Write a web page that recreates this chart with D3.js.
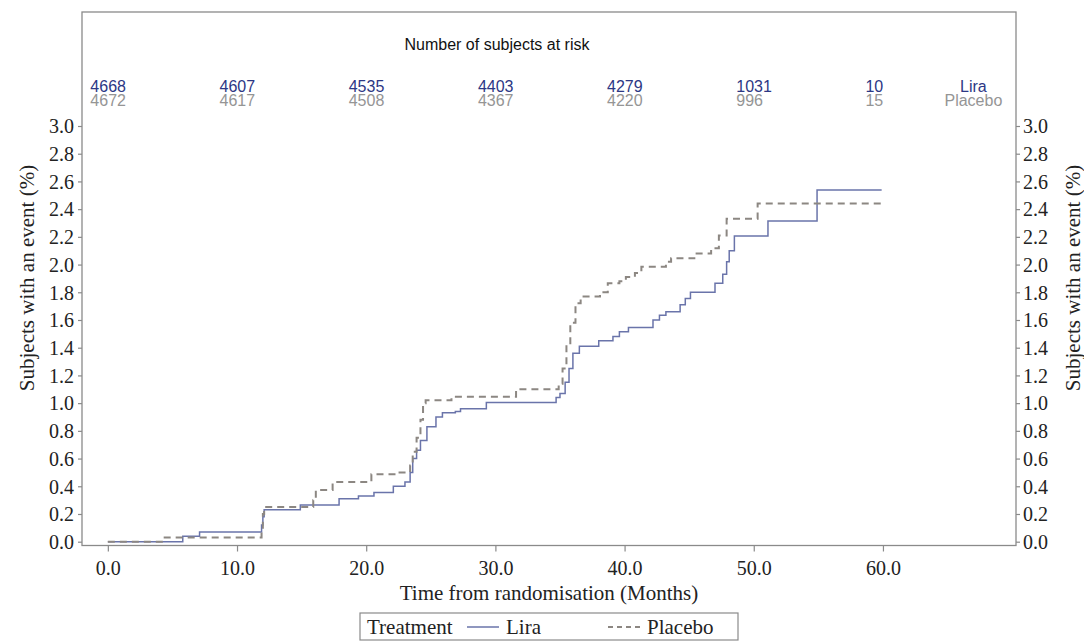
<!DOCTYPE html>
<html>
<head>
<meta charset="utf-8">
<script src="https://cdn.jsdelivr.net/npm/d3@7"></script>
<style>
  body { margin: 0; background: #fff; }
  svg { display: block; }
</style>
</head>
<body>
<svg id="chart" width="1084" height="642"></svg>
<script>
// Number of subjects at risk
const riskTimes = [0, 10, 20, 30, 40, 50, 60];
const riskLira = [4668, 4607, 4535, 4403, 4279, 1031, 10];
const riskPlacebo = [4672, 4617, 4508, 4367, 4220, 996, 15];

// Axis ticks
const xTicks = [0, 10, 20, 30, 40, 50, 60];
const yTicks = [0, 0.2, 0.4, 0.6, 0.8, 1.0, 1.2, 1.4, 1.6, 1.8, 2.0, 2.2, 2.4, 2.6, 2.8, 3.0];

// Cumulative incidence (%), Lira arm: months and value after each step
const liraTime = [0, 5.8, 7.1, 11.9, 12.0, 12.1, 14.9, 17.9, 19.4, 20.6, 22.1, 23.0, 23.4, 23.6,
  23.9, 24.2, 24.7, 25.4, 25.9, 26.9, 27.3, 29.3, 34.7, 35.0, 35.4, 35.7, 36.0, 36.5, 38.0,
  39.1, 39.6, 40.3, 42.2, 42.7, 43.2, 44.3, 44.7, 45.1, 47.0, 47.6, 47.9, 48.1, 48.5, 51.1,
  54.9, 59.9];
const liraPct = [0, 0.04, 0.07, 0.12, 0.18, 0.23, 0.265, 0.31, 0.33, 0.355, 0.40, 0.43, 0.50, 0.60,
  0.66, 0.73, 0.83, 0.90, 0.93, 0.94, 0.96, 1.005, 1.04, 1.07, 1.15, 1.25, 1.36, 1.41, 1.45,
  1.48, 1.515, 1.545, 1.60, 1.635, 1.66, 1.71, 1.756, 1.80, 1.865, 1.93, 2.02, 2.10, 2.206, 2.314,
  2.538, 2.538];

// Cumulative incidence (%), Placebo arm
const placeboTime = [0, 4.4, 11.9, 12.0, 12.1, 15.9, 16.1, 17.4, 20.4, 22.5, 23.4, 23.6, 23.9,
  24.2, 24.4, 24.6, 26.6, 31.6, 34.9, 35.2, 35.5, 35.8, 36.2, 36.6, 38.1, 38.7, 39.6, 40.1,
  40.8, 41.3, 43.2, 43.6, 45.4, 46.7, 47.3, 47.9, 50.3, 60.0];
const placeboPct = [0, 0.03, 0.10, 0.20, 0.25, 0.30, 0.373, 0.43, 0.486, 0.50, 0.55, 0.65, 0.75,
  0.88, 1.00, 1.02, 1.046, 1.10, 1.14, 1.25, 1.42, 1.58, 1.72, 1.77, 1.80, 1.865, 1.88, 1.91,
  1.94, 1.985, 2.02, 2.045, 2.08, 2.117, 2.21, 2.33, 2.44, 2.44];

const series = [
  { name: "Lira", time: liraTime, pct: liraPct, color: "#6a74aa", dash: null, width: 1.5 },
  { name: "Placebo", time: placeboTime, pct: placeboPct, color: "#8c8782", dash: "7,5", width: 2 }
];

const serif = "'Liberation Serif', 'Times New Roman', serif";
const sans = "'Liberation Sans', Arial, sans-serif";
const frameColor = "#8a8a8a";
const liraText = "#2c3785";
const placeboText = "#959595";

const svg = d3.select("#chart");

// Frame of the plot area
const frame = { left: 82, right: 1016, top: 12, bottom: 545.5 };

const x = d3.scaleLinear().domain([-2, 70.3]).range([frame.left, frame.right]);
const y = d3.scaleLinear().domain([0, 3]).range([541.7, 126]);

svg.append("rect")
  .attr("x", frame.left).attr("y", frame.top)
  .attr("width", frame.right - frame.left).attr("height", frame.bottom - frame.top)
  .attr("fill", "none").attr("stroke", frameColor).attr("stroke-width", 1.3);

// Left axis
const yLeft = svg.append("g")
  .attr("transform", `translate(${frame.left},0)`)
  .call(d3.axisLeft(y).tickValues(yTicks).tickFormat(d3.format(".1f")).tickSize(4).tickPadding(4));
// Right axis
const yRight = svg.append("g")
  .attr("transform", `translate(${frame.right},0)`)
  .call(d3.axisRight(y).tickValues(yTicks).tickFormat(d3.format(".1f")).tickSize(4).tickPadding(3));
// Bottom axis
const xAxis = svg.append("g")
  .attr("transform", `translate(0,${frame.bottom})`)
  .call(d3.axisBottom(x).tickValues(xTicks).tickFormat(d3.format(".1f")).tickSize(6).tickPadding(9));

[yLeft, yRight, xAxis].forEach(g => {
  g.select(".domain").remove();
  g.selectAll(".tick line").attr("stroke", frameColor).attr("stroke-width", 1.2);
  g.selectAll(".tick text")
    .attr("fill", "#222")
    .style("font-family", serif)
    .style("font-size", "20px");
});
yLeft.selectAll(".tick text").attr("dy", "0.34em");
yRight.selectAll(".tick text").attr("dy", "0.34em");

// Axis titles
svg.append("text")
  .attr("transform", `translate(34,278) rotate(-90)`)
  .attr("text-anchor", "middle")
  .style("font-family", serif).style("font-size", "21px").attr("fill", "#222")
  .text("Subjects with an event (%)");
svg.append("text")
  .attr("transform", `translate(1080,278) rotate(-90)`)
  .attr("text-anchor", "middle")
  .style("font-family", serif).style("font-size", "21px").attr("fill", "#222")
  .text("Subjects with an event (%)");
svg.append("text")
  .attr("x", (frame.left + frame.right) / 2).attr("y", 600)
  .attr("text-anchor", "middle")
  .style("font-family", serif).style("font-size", "21px").attr("fill", "#222")
  .text("Time from randomisation (Months)");

// Curves
const line = d3.line()
  .x(d => x(d[0]))
  .y(d => y(d[1]))
  .curve(d3.curveStepAfter);

series.forEach(s => {
  const pts = s.time.map((t, i) => [t, s.pct[i]]);
  svg.append("path")
    .datum(pts)
    .attr("d", line)
    .attr("fill", "none")
    .attr("stroke", s.color)
    .attr("stroke-width", s.width)
    .attr("stroke-dasharray", s.dash);
});

// Risk table
svg.append("text")
  .attr("x", 497).attr("y", 49.5)
  .attr("text-anchor", "middle")
  .style("font-family", sans).style("font-size", "16px").attr("fill", "#111")
  .text("Number of subjects at risk");

const riskRows = [
  { values: riskLira, label: "Lira", color: liraText, yPos: 91.5 },
  { values: riskPlacebo, label: "Placebo", color: placeboText, yPos: 105.5 }
];
riskRows.forEach(r => {
  svg.append("g").selectAll("text")
    .data(riskTimes)
    .join("text")
    .attr("x", d => x(d) - 17.5)
    .attr("y", r.yPos)
    .style("font-family", sans).style("font-size", "16px")
    .attr("fill", r.color)
    .text((d, i) => r.values[i]);
  svg.append("text")
    .attr("x", x(67)).attr("y", r.yPos)
    .attr("text-anchor", "middle")
    .style("font-family", sans).style("font-size", "16px")
    .attr("fill", r.color)
    .text(r.label);
});

// Legend
const legend = svg.append("g");
legend.append("rect")
  .attr("x", 360).attr("y", 613).attr("width", 378).attr("height", 27)
  .attr("fill", "#fff").attr("stroke", frameColor).attr("stroke-width", 1.2);
legend.append("text")
  .attr("x", 367).attr("y", 634)
  .style("font-family", serif).style("font-size", "21px").attr("fill", "#222")
  .text("Treatment");
const legendItems = [
  { s: series[0], x0: 467 },
  { s: series[1], x0: 608 }
];
legendItems.forEach(it => {
  legend.append("line")
    .attr("x1", it.x0).attr("x2", it.x0 + 32)
    .attr("y1", 627).attr("y2", 627)
    .attr("stroke", it.s.color).attr("stroke-width", it.s.width)
    .attr("stroke-dasharray", it.s.dash ? "5,4" : null);
  legend.append("text")
    .attr("x", it.x0 + 39).attr("y", 634)
    .style("font-family", serif).style("font-size", "21px").attr("fill", "#222")
    .text(it.s.name);
});
</script>
</body>
</html>
